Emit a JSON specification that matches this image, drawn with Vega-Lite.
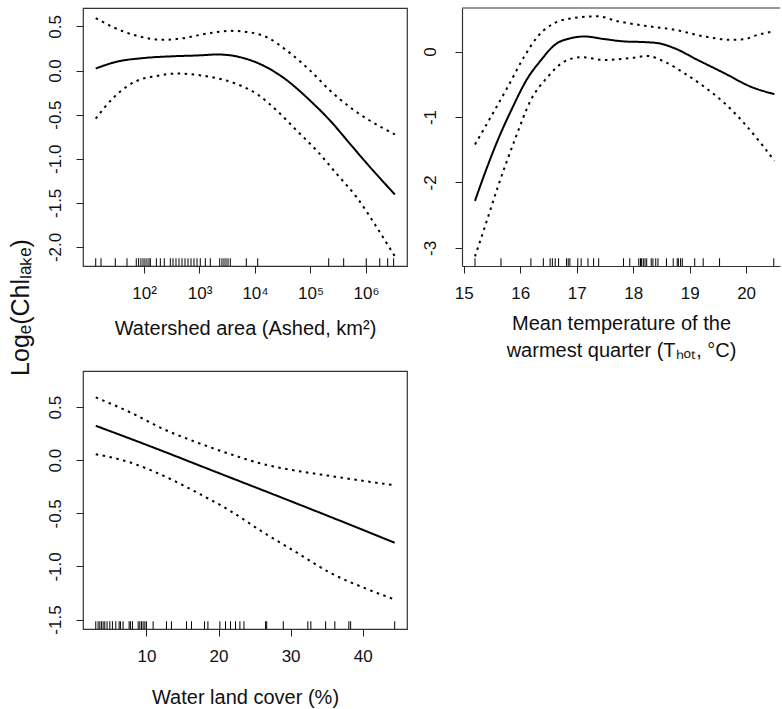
{
  "$schema": "https://vega.github.io/schema/vega-lite/v6.json",
  "padding": {"left": 9, "top": 7, "right": 0, "bottom": 0},
  "title": {"text": "Logₑ(Chlₗₐₖₑ)", "orient": "left", "anchor": "middle", "fontSize": 25, "fontWeight": "normal", "font": "Liberation Sans", "color": "#111", "offset": 11, "dx": 50},
  "datasets": {
    "p1curve": [
      {"x": 13.5, "y": 0.023, "s": "fit"}, {"x": 32.4, "y": 0.1, "s": "fit"}, {"x": 100, "y": 0.142, "s": "fit"}, {"x": 339, "y": 0.162, "s": "fit"}, {"x": 1000, "y": 0.172, "s": "fit"}, {"x": 2089, "y": 0.182, "s": "fit"}, {"x": 3631, "y": 0.172, "s": "fit"}, {"x": 7244, "y": 0.129, "s": "fit"}, {"x": 14450, "y": 0.053, "s": "fit"}, {"x": 33110, "y": -0.085, "s": "fit"}, {"x": 100000, "y": -0.345, "s": "fit"}, {"x": 229100, "y": -0.572, "s": "fit"}, {"x": 524800, "y": -0.837, "s": "fit"}, {"x": 1202000, "y": -1.1, "s": "fit"}, {"x": 3311000, "y": -1.405, "s": "fit"},
      {"x": 13.5, "y": 0.595, "s": "hi"}, {"x": 28.2, "y": 0.49, "s": "hi"}, {"x": 74.1, "y": 0.394, "s": "hi"}, {"x": 224, "y": 0.348, "s": "hi"}, {"x": 513, "y": 0.367, "s": "hi"}, {"x": 1202, "y": 0.413, "s": "hi"}, {"x": 3631, "y": 0.45, "s": "hi"}, {"x": 8318, "y": 0.432, "s": "hi"}, {"x": 16600, "y": 0.375, "s": "hi"}, {"x": 38020, "y": 0.223, "s": "hi"}, {"x": 100000, "y": -0.004, "s": "hi"}, {"x": 229100, "y": -0.231, "s": "hi"}, {"x": 524800, "y": -0.42, "s": "hi"}, {"x": 1202000, "y": -0.572, "s": "hi"}, {"x": 3311000, "y": -0.723, "s": "hi"},
      {"x": 13.5, "y": -0.545, "s": "lo"}, {"x": 28.2, "y": -0.307, "s": "lo"}, {"x": 74.1, "y": -0.117, "s": "lo"}, {"x": 170, "y": -0.061, "s": "lo"}, {"x": 389, "y": -0.034, "s": "lo"}, {"x": 891, "y": -0.049, "s": "lo"}, {"x": 2089, "y": -0.087, "s": "lo"}, {"x": 4786, "y": -0.155, "s": "lo"}, {"x": 10960, "y": -0.269, "s": "lo"}, {"x": 25120, "y": -0.458, "s": "lo"}, {"x": 57540, "y": -0.686, "s": "lo"}, {"x": 131800, "y": -0.913, "s": "lo"}, {"x": 302000, "y": -1.178, "s": "lo"}, {"x": 691800, "y": -1.443, "s": "lo"}, {"x": 1585000, "y": -1.784, "s": "lo"}, {"x": 3311000, "y": -2.106, "s": "lo"}
    ],
    "p1rug": [
      {"x": 13.5}, {"x": 16.8}, {"x": 30.4}, {"x": 49.4}, {"x": 72.6}, {"x": 80}, {"x": 88}, {"x": 96}, {"x": 104}, {"x": 113}, {"x": 123}, {"x": 130}, {"x": 167}, {"x": 197}, {"x": 232}, {"x": 298}, {"x": 333}, {"x": 377}, {"x": 427}, {"x": 484}, {"x": 548}, {"x": 621}, {"x": 703}, {"x": 796}, {"x": 902}, {"x": 1033}, {"x": 1273}, {"x": 1567}, {"x": 2313}, {"x": 2543}, {"x": 2763}, {"x": 3002}, {"x": 3264}, {"x": 3590}, {"x": 6970}, {"x": 11190}, {"x": 212800}, {"x": 396000}, {"x": 1010000}, {"x": 1770000}, {"x": 2460000}, {"x": 3150000}
    ],
    "p2curve": [
      {"x": 15.2, "y": -2.28, "s": "fit"}, {"x": 15.37, "y": -1.87, "s": "fit"}, {"x": 15.6, "y": -1.36, "s": "fit"}, {"x": 15.84, "y": -0.9, "s": "fit"}, {"x": 16.13, "y": -0.41, "s": "fit"}, {"x": 16.37, "y": -0.13, "s": "fit"}, {"x": 16.61, "y": 0.1, "s": "fit"}, {"x": 16.9, "y": 0.205, "s": "fit"}, {"x": 17.14, "y": 0.23, "s": "fit"}, {"x": 17.49, "y": 0.19, "s": "fit"}, {"x": 17.85, "y": 0.154, "s": "fit"}, {"x": 18.2, "y": 0.144, "s": "fit"}, {"x": 18.44, "y": 0.128, "s": "fit"}, {"x": 18.73, "y": 0.051, "s": "fit"}, {"x": 19.14, "y": -0.128, "s": "fit"}, {"x": 19.62, "y": -0.333, "s": "fit"}, {"x": 20.09, "y": -0.54, "s": "fit"}, {"x": 20.5, "y": -0.65, "s": "fit"},
      {"x": 15.2, "y": -1.42, "s": "hi"}, {"x": 15.48, "y": -1.0, "s": "hi"}, {"x": 15.78, "y": -0.54, "s": "hi"}, {"x": 16.07, "y": -0.08, "s": "hi"}, {"x": 16.31, "y": 0.23, "s": "hi"}, {"x": 16.61, "y": 0.436, "s": "hi"}, {"x": 16.96, "y": 0.513, "s": "hi"}, {"x": 17.37, "y": 0.538, "s": "hi"}, {"x": 17.73, "y": 0.462, "s": "hi"}, {"x": 18.2, "y": 0.395, "s": "hi"}, {"x": 18.73, "y": 0.333, "s": "hi"}, {"x": 19.26, "y": 0.231, "s": "hi"}, {"x": 19.73, "y": 0.179, "s": "hi"}, {"x": 19.97, "y": 0.19, "s": "hi"}, {"x": 20.21, "y": 0.256, "s": "hi"}, {"x": 20.5, "y": 0.308, "s": "hi"},
      {"x": 15.2, "y": -3.13, "s": "lo"}, {"x": 15.37, "y": -2.69, "s": "lo"}, {"x": 15.6, "y": -2.08, "s": "lo"}, {"x": 15.9, "y": -1.36, "s": "lo"}, {"x": 16.19, "y": -0.74, "s": "lo"}, {"x": 16.49, "y": -0.385, "s": "lo"}, {"x": 16.78, "y": -0.154, "s": "lo"}, {"x": 17.08, "y": -0.087, "s": "lo"}, {"x": 17.49, "y": -0.128, "s": "lo"}, {"x": 17.96, "y": -0.1, "s": "lo"}, {"x": 18.26, "y": -0.067, "s": "lo"}, {"x": 18.55, "y": -0.154, "s": "lo"}, {"x": 18.91, "y": -0.333, "s": "lo"}, {"x": 19.26, "y": -0.54, "s": "lo"}, {"x": 19.62, "y": -0.79, "s": "lo"}, {"x": 19.97, "y": -1.1, "s": "lo"}, {"x": 20.27, "y": -1.41, "s": "lo"}, {"x": 20.5, "y": -1.67, "s": "lo"}
    ],
    "p2rug": [
      {"x": 15.2}, {"x": 15.66}, {"x": 16.19}, {"x": 16.41}, {"x": 16.53}, {"x": 16.57}, {"x": 16.62}, {"x": 16.68}, {"x": 16.82}, {"x": 16.85}, {"x": 16.88}, {"x": 17.02}, {"x": 17.08}, {"x": 17.2}, {"x": 17.3}, {"x": 17.39}, {"x": 17.83}, {"x": 17.94}, {"x": 18.1}, {"x": 18.13}, {"x": 18.15}, {"x": 18.18}, {"x": 18.21}, {"x": 18.24}, {"x": 18.32}, {"x": 18.35}, {"x": 18.4}, {"x": 18.44}, {"x": 18.59}, {"x": 18.71}, {"x": 18.78}, {"x": 18.8}, {"x": 18.84}, {"x": 18.87}, {"x": 19.09}, {"x": 19.24}, {"x": 19.53}, {"x": 20.49}
    ],
    "p3curve": [
      {"x": 2.97, "y": 0.324, "s": "fit"}, {"x": 10, "y": 0.145, "s": "fit"}, {"x": 20, "y": -0.12, "s": "fit"}, {"x": 30, "y": -0.385, "s": "fit"}, {"x": 40, "y": -0.655, "s": "fit"}, {"x": 44.44, "y": -0.777, "s": "fit"},
      {"x": 2.97, "y": 0.591, "s": "hi"}, {"x": 7.78, "y": 0.45, "s": "hi"}, {"x": 12.4, "y": 0.292, "s": "hi"}, {"x": 17.03, "y": 0.167, "s": "hi"}, {"x": 21.65, "y": 0.057, "s": "hi"}, {"x": 26.27, "y": -0.038, "s": "hi"}, {"x": 30.9, "y": -0.1, "s": "hi"}, {"x": 35.5, "y": -0.148, "s": "hi"}, {"x": 40.14, "y": -0.195, "s": "hi"}, {"x": 44.44, "y": -0.236, "s": "hi"},
      {"x": 2.97, "y": 0.057, "s": "lo"}, {"x": 7.78, "y": -0.022, "s": "lo"}, {"x": 12.4, "y": -0.148, "s": "lo"}, {"x": 17.03, "y": -0.305, "s": "lo"}, {"x": 21.65, "y": -0.478, "s": "lo"}, {"x": 26.27, "y": -0.682, "s": "lo"}, {"x": 30.9, "y": -0.871, "s": "lo"}, {"x": 35.5, "y": -1.06, "s": "lo"}, {"x": 40.14, "y": -1.2, "s": "lo"}, {"x": 44.44, "y": -1.311, "s": "lo"}
    ],
    "p3rug": [
      {"x": 2.97}, {"x": 3.29}, {"x": 3.53}, {"x": 3.75}, {"x": 3.99}, {"x": 4.22}, {"x": 4.54}, {"x": 4.92}, {"x": 5.28}, {"x": 5.75}, {"x": 6.21}, {"x": 6.39}, {"x": 6.76}, {"x": 7.6}, {"x": 7.78}, {"x": 8.06}, {"x": 8.85}, {"x": 9.08}, {"x": 9.31}, {"x": 9.54}, {"x": 9.78}, {"x": 10.0}, {"x": 10.93}, {"x": 12.78}, {"x": 13.47}, {"x": 15.56}, {"x": 16.25}, {"x": 18.06}, {"x": 18.53}, {"x": 20.19}, {"x": 20.97}, {"x": 21.67}, {"x": 22.36}, {"x": 22.97}, {"x": 23.53}, {"x": 26.53}, {"x": 26.69}, {"x": 28.99}, {"x": 32.39}, {"x": 32.81}, {"x": 34.86}, {"x": 36.14}, {"x": 38.08}, {"x": 38.33}, {"x": 44.44}
    ]
  },
  "vconcat": [
    {
      "hconcat": [
        {
          "width": 324, "height": 258,
          "layer": [
            {
              "data": {"name": "p1curve"},
              "mark": {"type": "line", "color": "#000", "strokeWidth": 2, "interpolate": "monotone"},
              "encoding": {
                "x": {"field": "x", "type": "quantitative", "scale": {"type": "log", "domain": [7.96, 5480000], "nice": false},
                      "axis": {"values": [100, 1000, 10000, 100000, 1000000], "labelExpr": "'10' + ['⁰','¹','²','³','⁴','⁵','⁶','⁷'][round(log(datum.value)/LN10)]", "title": "Watershed area (Ashed, km²)", "titlePadding": 17}},
                "y": {"field": "y", "type": "quantitative", "scale": {"domain": [-2.216, 0.709], "nice": false, "zero": false},
                      "axis": {"values": [0.5, 0, -0.5, -1, -1.5, -2], "labelExpr": "replace(format(datum.value, '.1f'), '−', '-')", "title": null}},
                "detail": {"field": "s"},
                "strokeDash": {"field": "s", "type": "nominal", "scale": {"domain": ["fit", "lo", "hi"], "range": [[1, 0], [2.5, 4.5], [2.5, 4.5]]}, "legend": null}
              }
            },
            {
              "data": {"name": "p1rug"},
              "mark": {"type": "rule", "color": "#000", "strokeWidth": 1},
              "encoding": {"x": {"field": "x", "type": "quantitative"}, "y": {"datum": -2.216}, "y2": {"datum": -2.128}}
            }
          ]
        },
        {
          "width": 318, "height": 258,
          "view": {"stroke": null},
          "layer": [
            {
              "data": {"name": "p2curve"},
              "mark": {"type": "line", "color": "#000", "strokeWidth": 2, "interpolate": "monotone"},
              "encoding": {
                "x": {"field": "x", "type": "quantitative", "scale": {"domain": [14.97, 20.6], "nice": false, "zero": false},
                      "axis": {"values": [15, 16, 17, 18, 19, 20], "format": "d", "title": ["Mean temperature of the", "warmest quarter (Tₕₒₜ, °C)"], "titleLineHeight": 27, "titlePadding": 12, "domain": true}},
                "y": {"field": "y", "type": "quantitative", "scale": {"domain": [-3.276, 0.665], "nice": false, "zero": false},
                      "axis": {"values": [0, -1, -2, -3], "labelExpr": "replace(format(datum.value, 'd'), '−', '-')", "title": null, "domain": true, "labelPadding": 16}},
                "detail": {"field": "s"},
                "strokeDash": {"field": "s", "type": "nominal", "scale": {"domain": ["fit", "lo", "hi"], "range": [[1, 0], [2.5, 4.5], [2.5, 4.5]]}, "legend": null}
              }
            },
            {
              "data": {"name": "p2rug"},
              "mark": {"type": "rule", "color": "#000", "strokeWidth": 1},
              "encoding": {"x": {"field": "x", "type": "quantitative"}, "y": {"datum": -3.276}, "y2": {"datum": -3.158}}
            },
            {
              "data": {"values": [{}]},
              "mark": {"type": "rule", "color": "#333", "strokeWidth": 1.2},
              "encoding": {"y": {"datum": 0.665}}
            }
          ]
        }
      ],
      "spacing": 12
    },
    {
      "width": 324, "height": 258,
      "layer": [
        {
          "data": {"name": "p3curve"},
          "mark": {"type": "line", "color": "#000", "strokeWidth": 2, "interpolate": "monotone"},
          "encoding": {
            "x": {"field": "x", "type": "quantitative", "scale": {"domain": [1.2, 46.15], "nice": false, "zero": false},
                  "axis": {"values": [10, 20, 30, 40], "title": "Water land cover (%)", "titlePadding": 23}},
            "y": {"field": "y", "type": "quantitative", "scale": {"domain": [-1.589, 0.84], "nice": false, "zero": false},
                  "axis": {"values": [0.5, 0, -0.5, -1, -1.5], "labelExpr": "replace(format(datum.value, '.1f'), '−', '-')", "title": null}},
            "detail": {"field": "s"},
            "strokeDash": {"field": "s", "type": "nominal", "scale": {"domain": ["fit", "lo", "hi"], "range": [[1, 0], [2.5, 4.5], [2.5, 4.5]]}, "legend": null}
          }
        },
        {
          "data": {"name": "p3rug"},
          "mark": {"type": "rule", "color": "#000", "strokeWidth": 1},
          "encoding": {"x": {"field": "x", "type": "quantitative"}, "y": {"datum": -1.589}, "y2": {"datum": -1.516}}
        }
      ]
    }
  ],
  "spacing": 10,
  "config": {
    "font": "Liberation Sans",
    "view": {"stroke": "#333", "strokeWidth": 1.2},
    "axis": {"grid": false, "domain": false, "domainColor": "#333", "domainWidth": 1.2, "tickColor": "#222", "tickSize": 7, "tickWidth": 1,
             "labelColor": "#111", "labelFontSize": 17, "labelFont": "Liberation Sans", "labelPadding": 12,
             "titleFont": "Liberation Sans", "titleFontSize": 20, "titleFontWeight": "normal", "titleColor": "#111"},
    "axisY": {"labelAngle": -90, "labelAlign": "center", "labelBaseline": "bottom"}
  }
}
